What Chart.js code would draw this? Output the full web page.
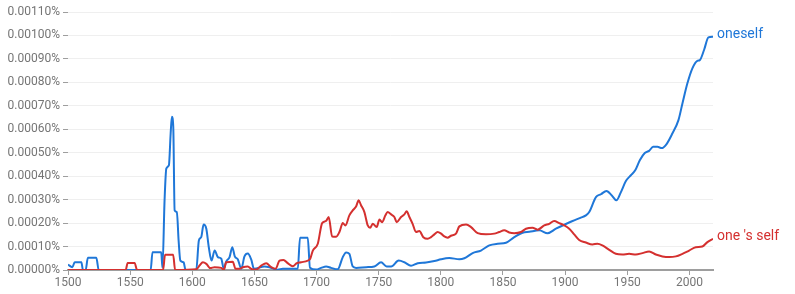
<!DOCTYPE html>
<html>
<head>
<meta charset="utf-8">
<script src="https://cdn.jsdelivr.net/npm/chart.js@4/dist/chart.umd.min.js"></script>
<style>
  html, body { margin: 0; padding: 0; background: #fff; }
  #wrap { width: 795px; height: 294px; }
</style>
</head>
<body>
<div id="wrap"><canvas id="c" width="795" height="294"></canvas></div>
<script>
// Values are in units of 0.00001 % (so 10 => 0.00010 %)
const VALUE_UNIT = 0.00001;

const oneselfYears = [1500,1503.5,1505.4,1510.8,1512,1514.2,1516,1522.8,1524.7,1566.5,1568,1575,1576,1577.7,1579.1,1581.2,1582.6,1583.6,1584.7,1585.8,1587.6,1589,1590.4,1593,1594.6,1603.2,1605.3,1607.2,1609.1,1611.3,1613.3,1615.5,1618,1620.6,1623.3,1625.4,1627.2,1630,1632.2,1634.2,1636.7,1639.4,1642,1644.7,1647.4,1649.7,1658.1,1662.1,1668.8,1672.8,1684.9,1686.7,1692.9,1694.7,1699.7,1703.7,1707.7,1711.7,1717,1721.1,1723.8,1726.4,1729.1,1731.8,1739.9,1746.5,1751.9,1756.4,1760,1766.1,1770.7,1776,1781.4,1788.1,1794.8,1800.2,1806.8,1814.9,1818.9,1825.6,1832.3,1839,1845.7,1852.4,1859.1,1865.8,1871.2,1879.2,1885.9,1892.6,1899.3,1906,1912.7,1916.7,1919.4,1924.8,1928.8,1933.3,1937.6,1941.3,1944.9,1948.9,1952.9,1956.4,1960.1,1964.1,1967.6,1970.8,1974.3,1977.8,1981.5,1986.3,1991.2,1994.4,1998.4,2002.4,2006.4,2008.4,2011.8,2015.3,2019];
const oneselfValues = [2.3,1.2,3.3,3.3,0,0,5.2,5.2,0,0,7.6,7.6,1,29.7,43.2,44.7,58.2,65.3,61,25.4,24.7,12.6,4,3.3,0,0,12.6,14,19.4,17.6,9.7,4,8.3,5.5,4.8,0.5,3.5,5.5,9.7,5.8,4.5,0.5,5.8,7,4.5,0.5,1.5,1.2,0.1,0.5,0.5,13.8,13.8,1,0.2,0.9,1.5,0.9,0.3,5.5,7.5,6.9,1.5,0.9,1.2,1.5,3.3,1.5,1.5,4,3.3,1.8,2.9,3.2,3.8,4.6,5.1,4.6,5,7.2,8.3,10.5,11.2,11.6,14,15.9,16.3,16.9,15.7,17.6,19.3,20.9,22.3,23.3,24.7,31.1,32.3,33.7,31.8,29.7,33.2,37.9,40.4,42.5,46.8,49.9,50.8,52.5,52.5,52,53.6,58.2,63.9,71,79.6,86,89.2,89.5,93.8,99.2,99.5];

const onesSelfYears = [1500,1546.4,1548,1553.6,1555.6,1576.5,1578.1,1584.6,1586.2,1603.2,1606,1608.5,1611.3,1614.5,1617.9,1623.3,1625.4,1627.3,1632.6,1634.8,1638,1640.7,1644.7,1647.4,1651.4,1655.5,1659.5,1663.5,1667,1670.2,1673.4,1676.8,1680.9,1684.1,1687.6,1692.9,1694.9,1697,1701,1704.5,1707.7,1709.8,1712.5,1715.8,1718.4,1721.1,1723.2,1726.4,1729.1,1731.8,1733.9,1735.8,1738.5,1741.2,1743.1,1745.2,1748.4,1750.6,1752.7,1755.4,1757.2,1760,1762.6,1764.5,1768,1770.7,1772.5,1774.7,1777.3,1780,1782.7,1785.9,1789.4,1792.1,1794.8,1797.4,1800.2,1802.8,1805.5,1808.2,1812.2,1814.9,1820.3,1824.3,1829.6,1836.3,1843,1847,1851,1855,1859.1,1864.5,1868.5,1873.8,1877.8,1883.2,1887.2,1891.2,1895.3,1899.3,1903.3,1907.3,1911.3,1916.7,1922,1926,1930,1935.5,1940.8,1946.1,1951.5,1956.9,1962.2,1967.6,1973,1978.3,1983.7,1989.1,1994.4,1999.8,2005.1,2010.4,2014.5,2019];
const onesSelfValues = [0,0,3,3,0,0,6.5,6.5,0,0.3,2,3.3,2.6,0.8,1.2,0.9,0.1,3.3,3.5,0.5,0.5,1.2,1.5,0.5,0.2,1.9,2.9,1.2,0.5,4,4.3,2.9,1.6,2.9,3.3,4,4.8,8.3,11.2,20,20.9,22.6,14.3,14.2,16.2,20,19,23.3,25.4,27.1,29.7,27.6,24.7,19,18,19.7,18.3,21.5,20.4,23.3,24.7,23.7,22.6,20.4,22.6,23.7,25.1,22.6,19.7,16.2,16.6,14,13.3,14,15.2,16.2,15.5,14.3,13.8,14.6,15.5,18.6,19.4,18.3,15.7,15.2,15.5,16.2,16.9,16,15.7,16.2,17.6,18,17.2,19,19.7,20.9,20,19,17.6,15.2,12.8,11.7,10.9,11.2,10.5,8.6,6.9,6.6,6.9,6.6,7.2,7.9,6.6,5.8,5.5,5.8,6.9,8.3,9.7,10,11.9,13.3];

const seriesNames = ["one 's self", "oneself"];
const xTickValues = [1500,1550,1600,1650,1700,1750,1800,1850,1900,1950,2000];
const yTickValues = [0,10,20,30,40,50,60,70,80,90,100,110];

const BLUE = '#1f77d8';
const RED = '#d4302f';

function pts(xs, ys) { return xs.map((x, i) => ({ x: x, y: ys[i] })); }

const endLabels = {
  id: 'endLabels',
  afterDatasetsDraw(chart) {
    const ctx = chart.ctx;
    ctx.save();
    ctx.font = '14px Roboto, "Noto Sans", sans-serif';
    ctx.textBaseline = 'middle';
    ctx.textAlign = 'left';
    chart.data.datasets.forEach((ds, i) => {
      const meta = chart.getDatasetMeta(i);
      const last = meta.data[meta.data.length - 1];
      ctx.fillStyle = ds.borderColor;
      ctx.fillText(ds.label, chart.chartArea.right + 4, last.y - 2);
    });
    ctx.restore();
  }
};

new Chart(document.getElementById('c'), {
  type: 'line',
  data: {
    datasets: [
      { label: seriesNames[0], data: pts(onesSelfYears, onesSelfValues), borderColor: RED, borderWidth: 2, pointRadius: 0, cubicInterpolationMode: 'monotone', fill: false },
      { label: seriesNames[1], data: pts(oneselfYears, oneselfValues), borderColor: BLUE, borderWidth: 2, pointRadius: 0, cubicInterpolationMode: 'monotone', fill: false }
    ]
  },
  options: {
    responsive: false,
    animation: false,
    layout: { padding: { left: 0, right: 82, top: 12, bottom: 0 } },
    plugins: { legend: { display: false }, tooltip: { enabled: false } },
    scales: {
      x: {
        type: 'linear',
        min: 1500,
        max: 2019,
        afterBuildTicks: s => { s.ticks = xTickValues.map(v => ({ value: v })); },
        afterFit: s => { s.height = 24; },
        grid: { drawOnChartArea: false, drawTicks: true, tickLength: 5, tickColor: '#9e9e9e', tickWidth: 1 },
        border: { display: true, color: '#9e9e9e', width: 2 },
        ticks: { color: '#757575', font: { family: 'Roboto', size: 12 }, padding: 1, maxRotation: 0, autoSkip: false, callback: v => String(v) }
      },
      y: {
        min: 0,
        max: 110,
        afterBuildTicks: s => { s.ticks = yTickValues.map(v => ({ value: v })); },
        afterFit: s => { s.width = 68; },
        grid: { color: '#efefef', lineWidth: 1, drawTicks: true, tickLength: 5, tickColor: '#9e9e9e' },
        border: { display: false },
        ticks: { color: '#757575', font: { family: 'Roboto', size: 12 }, padding: 3, autoSkip: false,
          callback: v => (v * VALUE_UNIT).toFixed(5) + '%' }
      }
    }
  },
  plugins: [endLabels]
});
</script>
</body>
</html>
